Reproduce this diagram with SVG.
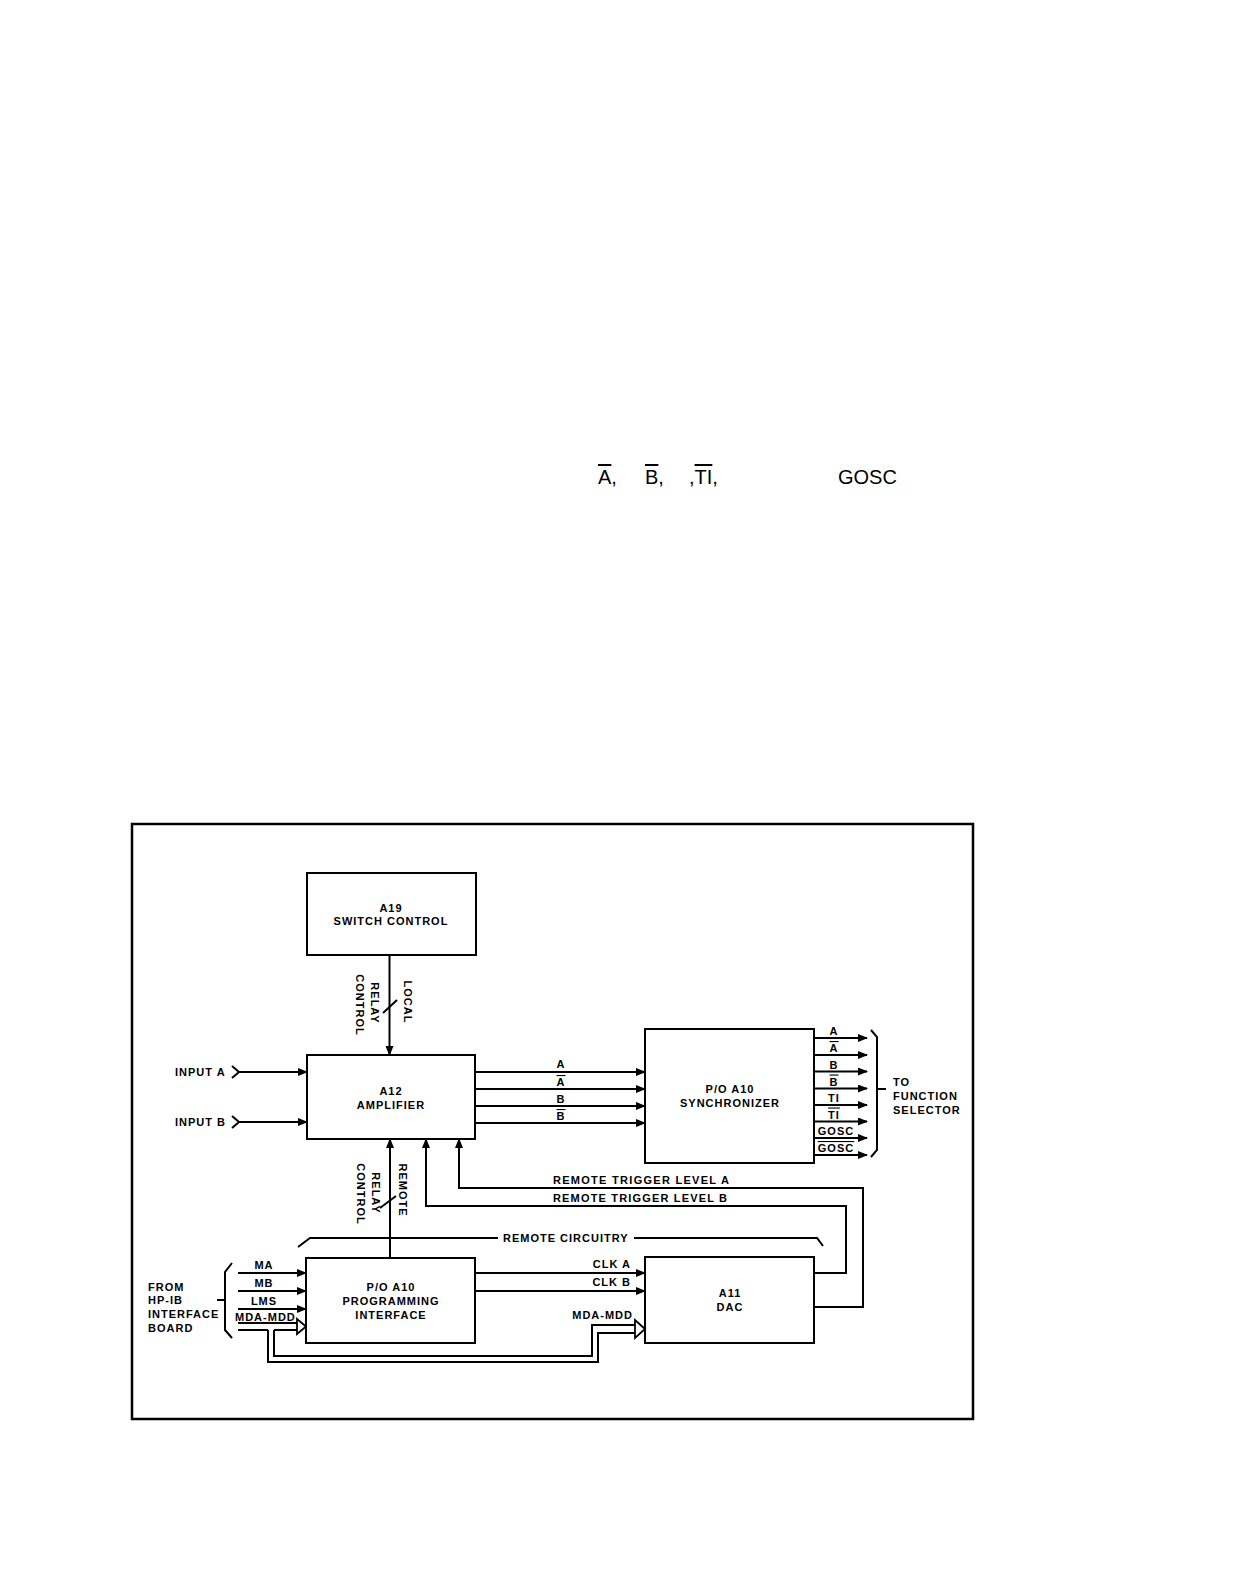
<svg xmlns="http://www.w3.org/2000/svg" width="1245" height="1581" viewBox="0 0 1245 1581">
<defs>
<style>
.t{font-family:"Liberation Sans",Arial,Helvetica,sans-serif;font-weight:bold;font-size:11px;letter-spacing:1px;fill:#000}
.m{text-anchor:middle}
.e{text-anchor:end}
.ov{text-decoration:overline}
.box{fill:#fff;stroke:#000;stroke-width:2}
.ln{fill:none;stroke:#000;stroke-width:2}
.ar{fill:none;stroke:#000;stroke-width:2;marker-end:url(#ah)}
.top{font-family:"Liberation Sans",Arial,sans-serif;font-size:20px;fill:#000}
</style>
<marker id="ah" markerUnits="userSpaceOnUse" markerWidth="10" markerHeight="8" refX="9" refY="4" orient="auto">
<path d="M0,0 L10,4 L0,8 z" fill="#000"/>
</marker>
</defs>
<rect width="1245" height="1581" fill="#fff"/>

<g id="top-text">
<text class="top" y="484"><tspan x="598" class="ov">A</tspan><tspan>,</tspan><tspan x="645" class="ov">B</tspan><tspan>,</tspan><tspan x="689">,</tspan><tspan class="ov">TI</tspan><tspan>,</tspan><tspan x="838">GOSC</tspan></text>
</g>

<g id="frame"><rect x="132" y="824" width="841" height="595" fill="none" stroke="#000" stroke-width="2.5"/></g>

<g id="a19">
<rect class="box" x="307" y="873" width="169" height="82"/>
<text class="t m" x="391" y="912">A19</text>
<text class="t m" x="391" y="925">SWITCH CONTROL</text>
</g>

<g id="a12">
<rect class="box" x="307" y="1055" width="168" height="84"/>
<text class="t m" x="391" y="1095">A12</text>
<text class="t m" x="391" y="1109">AMPLIFIER</text>
</g>

<g id="sync">
<rect class="box" x="645" y="1029" width="169" height="134"/>
<text class="t m" x="730" y="1093">P/O A10</text>
<text class="t m" x="730" y="1107">SYNCHRONIZER</text>
</g>

<g id="pi">
<rect class="box" x="306" y="1258" width="169" height="85"/>
<text class="t m" x="391" y="1291">P/O A10</text>
<text class="t m" x="391" y="1305">PROGRAMMING</text>
<text class="t m" x="391" y="1319">INTERFACE</text>
</g>

<g id="dac">
<rect class="box" x="645" y="1257" width="169" height="86"/>
<text class="t m" x="730" y="1297">A11</text>
<text class="t m" x="730" y="1311">DAC</text>
</g>

<g id="connectors">
<line class="ar" x1="389.5" y1="955" x2="389.5" y2="1055"/>
<line class="ln" x1="383" y1="1013" x2="397" y2="1000"/>
<polyline class="ln" points="232,1066 239,1072 232,1078"/>
<line class="ar" x1="239" y1="1072" x2="307" y2="1072"/>
<polyline class="ln" points="232,1116 239,1122 232,1128"/>
<line class="ar" x1="239" y1="1122" x2="307" y2="1122"/>
<line class="ar" x1="475" y1="1072" x2="645" y2="1072"/>
<line class="ar" x1="475" y1="1089" x2="645" y2="1089"/>
<line class="ar" x1="475" y1="1106" x2="645" y2="1106"/>
<line class="ar" x1="475" y1="1123" x2="645" y2="1123"/>
<line class="ar" x1="814" y1="1038" x2="867" y2="1038"/>
<line class="ar" x1="814" y1="1055" x2="867" y2="1055"/>
<line class="ar" x1="814" y1="1071.5" x2="867" y2="1071.5"/>
<line class="ar" x1="814" y1="1088.5" x2="867" y2="1088.5"/>
<line class="ar" x1="814" y1="1105" x2="867" y2="1105"/>
<line class="ar" x1="814" y1="1121.5" x2="867" y2="1121.5"/>
<line class="ar" x1="814" y1="1138" x2="867" y2="1138"/>
<line class="ar" x1="814" y1="1155" x2="867" y2="1155"/>
<path class="ln" d="M871,1030 L877,1037 L877,1150 L871,1157 M877,1089 L886,1089"/>
<line class="ar" x1="390" y1="1258" x2="390" y2="1139"/>
<line class="ln" x1="380" y1="1208" x2="396" y2="1196"/>
<polyline class="ar" points="814,1307 863,1307 863,1188 459,1188 459,1139"/>
<polyline class="ar" points="814,1273 846,1273 846,1206 426,1206 426,1139"/>
<polyline class="ln" points="298,1247 310,1238 498,1238"/>
<polyline class="ln" points="634,1238 817,1238 823,1246"/>
<line class="ar" x1="475" y1="1273" x2="645" y2="1273"/>
<line class="ar" x1="475" y1="1291" x2="645" y2="1291"/>
<path class="ln" d="M232,1263 L225,1272 L225,1330 L232,1338 M217,1300 L225,1300"/>
<line class="ar" x1="238" y1="1273" x2="306" y2="1273"/>
<line class="ar" x1="238" y1="1291" x2="306" y2="1291"/>
<line class="ar" x1="238" y1="1309" x2="306" y2="1309"/>
<line class="ln" x1="238" y1="1323" x2="298" y2="1323" stroke-width="1.6"/>
<path class="ln" d="M238,1330 L268,1330 M274,1330 L298,1330" stroke-width="1.6"/>
<polygon points="297,1319 306,1326.5 297,1334" fill="#fff" stroke="#000" stroke-width="1.8"/>
<polyline class="ln" points="268,1330 268,1362 598,1362 598,1333 636,1333" stroke-width="1.6"/>
<polyline class="ln" points="274,1330 274,1356 592,1356 592,1325 636,1325" stroke-width="1.6"/>
<polygon points="635,1320 645,1329 635,1338" fill="#fff" stroke="#000" stroke-width="1.8"/>
</g>

<g id="labels">
<g transform="translate(356,1005) rotate(90)"><text class="t m" x="0" y="0">CONTROL</text></g>
<g transform="translate(371,1003) rotate(90)"><text class="t m" x="0" y="0">RELAY</text></g>
<g transform="translate(404,1002) rotate(90)"><text class="t m" x="0" y="0">LOCAL</text></g>
<g transform="translate(357,1194) rotate(90)"><text class="t m" x="0" y="0">CONTROL</text></g>
<g transform="translate(372,1193) rotate(90)"><text class="t m" x="0" y="0">RELAY</text></g>
<g transform="translate(399,1190) rotate(90)"><text class="t m" x="0" y="0">REMOTE</text></g>

<text class="t" x="175" y="1076">INPUT A</text>
<text class="t" x="175" y="1126">INPUT B</text>

<text class="t m" x="561" y="1068">A</text>
<text class="t m ov" x="561" y="1086">A</text>
<text class="t m" x="561" y="1103">B</text>
<text class="t m ov" x="561" y="1120">B</text>

<text class="t m" x="834" y="1035">A</text>
<text class="t m ov" x="834" y="1052">A</text>
<text class="t m" x="834" y="1068.5">B</text>
<text class="t m ov" x="834" y="1085.5">B</text>
<text class="t m" x="834" y="1102">TI</text>
<text class="t m ov" x="834" y="1118.5">TI</text>
<text class="t m" x="836" y="1135">GOSC</text>
<text class="t m ov" x="836" y="1152">GOSC</text>

<text class="t" x="893" y="1086">TO</text>
<text class="t" x="893" y="1100">FUNCTION</text>
<text class="t" x="893" y="1114">SELECTOR</text>

<text class="t" x="553" y="1184" textLength="177" lengthAdjust="spacing">REMOTE TRIGGER LEVEL A</text>
<text class="t" x="553" y="1202" textLength="175" lengthAdjust="spacing">REMOTE TRIGGER LEVEL B</text>
<text class="t" x="503" y="1242">REMOTE CIRCUITRY</text>

<text class="t e" x="631" y="1268">CLK A</text>
<text class="t e" x="631" y="1286">CLK B</text>
<text class="t e" x="633" y="1319">MDA-MDD</text>

<text class="t m" x="264" y="1269">MA</text>
<text class="t m" x="264" y="1287">MB</text>
<text class="t m" x="264" y="1305">LMS</text>
<text class="t" x="235" y="1321">MDA-MDD</text>

<text class="t" x="148" y="1291">FROM</text>
<text class="t" x="148" y="1304">HP-IB</text>
<text class="t" x="148" y="1318">INTERFACE</text>
<text class="t" x="148" y="1332">BOARD</text>
</g>
</svg>
